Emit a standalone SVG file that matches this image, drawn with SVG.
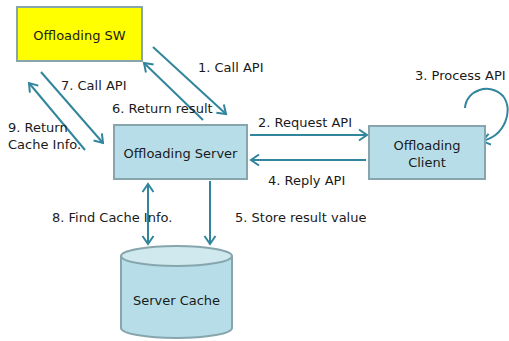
<svg xmlns="http://www.w3.org/2000/svg" width="509" height="341" viewBox="0 0 509 341">
<style>
.box{fill:#b7dee8;stroke:#87a5ad;stroke-width:2}
.sw{fill:#ffff00;stroke:#87a5ad;stroke-width:2}
.t{font-family:"DejaVu Sans",sans-serif;font-size:13px;fill:#1a1a1a}
.c{stroke:#31859c;stroke-width:2;fill:none}
</style>
<defs>
<marker id="ah" markerUnits="userSpaceOnUse" markerWidth="14" markerHeight="14" viewBox="-10 -7 12 14" refX="0" refY="0" orient="auto-start-reverse">
<path d="M-8,-5.5 L0,0 L-8,5.5" fill="none" stroke="#31859c" stroke-width="2"/>
</marker>
</defs>
<rect width="509" height="341" fill="#ffffff"/>
<g id="connectors">
<line class="c" x1="153" y1="47" x2="226" y2="114" marker-end="url(#ah)"/>
<line class="c" x1="203" y1="120" x2="144" y2="63" marker-end="url(#ah)"/>
<line class="c" x1="41" y1="72" x2="103" y2="143" marker-end="url(#ah)"/>
<line class="c" x1="85" y1="150" x2="29" y2="83" marker-end="url(#ah)"/>
<line class="c" x1="250" y1="135" x2="367" y2="135" marker-end="url(#ah)"/>
<line class="c" x1="366" y1="160" x2="251" y2="160" marker-end="url(#ah)"/>
<path class="c" d="M465,108 C466,90 490,82 503,96 C514,110 505,136 482,141" marker-end="url(#ah)"/>
<line class="c" x1="148" y1="184" x2="148" y2="244" marker-start="url(#ah)" marker-end="url(#ah)"/>
<line class="c" x1="210" y1="181" x2="210" y2="244" marker-end="url(#ah)"/>
<text class="t" x="198" y="72">1. Call API</text>
<text class="t" x="112" y="113">6. Return result</text>
<text class="t" x="61" y="90">7. Call API</text>
<text class="t" x="8" y="132">9. Return</text>
<text class="t" x="8" y="149">Cache Info.</text>
<text class="t" x="258" y="127">2. Request API</text>
<text class="t" x="268" y="185">4. Reply API</text>
<text class="t" x="415" y="80">3. Process API</text>
<text class="t" x="52" y="222">8. Find Cache Info.</text>
<text class="t" x="235" y="222">5. Store result value</text>
</g>
<g id="offloading-sw">
<rect class="sw" x="17" y="7" width="125" height="54"/>
<text class="t" x="79.5" y="40" text-anchor="middle">Offloading SW</text>
</g>
<g id="offloading-server">
<rect class="box" x="114" y="125" width="133" height="54"/>
<text class="t" x="180.5" y="158" text-anchor="middle">Offloading Server</text>
</g>
<g id="offloading-client">
<rect class="box" x="369" y="126" width="116" height="53"/>
<text class="t" x="427" y="150" text-anchor="middle">Offloading</text>
<text class="t" x="427" y="167" text-anchor="middle">Client</text>
</g>
<g id="server-cache">
<path class="box" d="M121,256 L121,328 A55.5,10 0 0 0 232,328 L232,256"/>
<ellipse cx="176.5" cy="256" rx="55.5" ry="10" fill="#cfe9ef" stroke="#87a5ad" stroke-width="2"/>
<text class="t" x="176.5" y="305" text-anchor="middle">Server Cache</text>
</g>
</svg>
